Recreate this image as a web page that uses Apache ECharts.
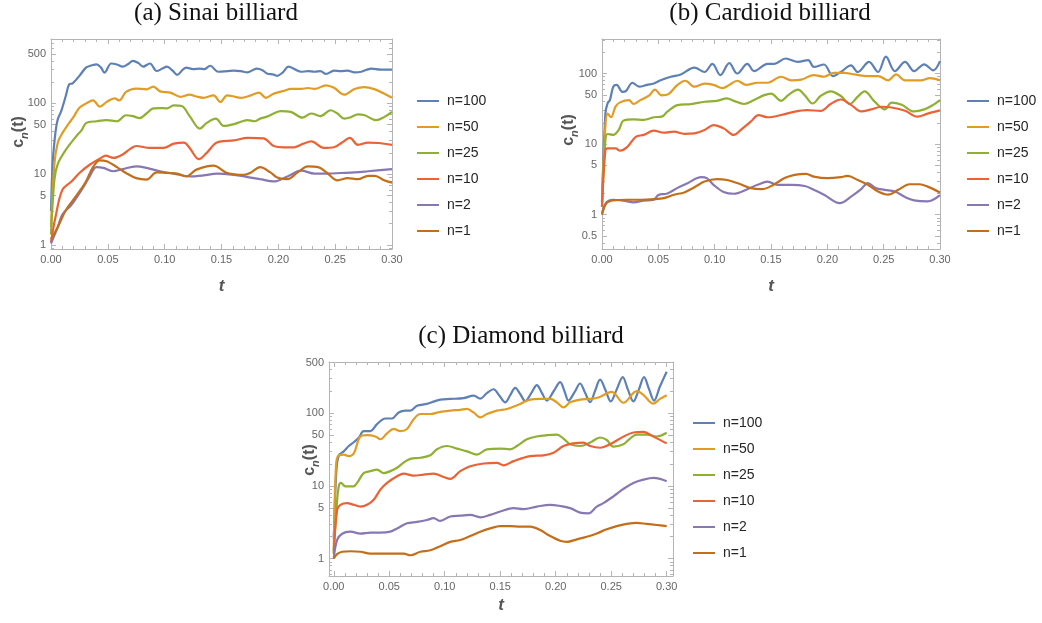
<!DOCTYPE html>
<html>
<head>
<meta charset="utf-8">
<script src="https://cdn.jsdelivr.net/npm/echarts@6/dist/echarts.min.js"></script>
<style>
  html, body { margin: 0; padding: 0; background: #ffffff; }
  #chart { width: 1042px; height: 623px; }
</style>
</head>
<body>
<div id="chart"></div>
<script>
// Legend entries and line colours (shared by all three panels)
const seriesNames = ['n=100', 'n=50', 'n=25', 'n=10', 'n=2', 'n=1'];
const palette = ['#5E81B5', '#E19C24', '#8FB032', '#EB6235', '#8778B3', '#C56E1A'];

// Tick labels
const xTickLabels = [0, 0.05, 0.1, 0.15, 0.2, 0.25, 0.3];
const sinaiYTicks = [1, 5, 10, 50, 100, 500];
const cardioidYTicks = [0.5, 1, 5, 10, 50, 100];
const diamondYTicks = [1, 5, 10, 50, 100, 500];

// (a) Sinai billiard: [t, c_n(t)]
const sinai100 = [[0,3],[0.0015,14.5],[0.004,40],[0.006,60],[0.009,78],[0.013,127],[0.016,186],[0.019,192],[0.025,245],[0.031,322],[0.036,345],[0.040,356],[0.044,320],[0.047,272],[0.053,366],[0.058,355],[0.063,330],[0.068,360],[0.072,399],[0.077,370],[0.081,330],[0.087,366],[0.093,287],[0.098,310],[0.102,330],[0.107,290],[0.111,253],[0.116,300],[0.119,320],[0.125,305],[0.131,310],[0.135,305],[0.140,340],[0.147,280],[0.155,285],[0.161,290],[0.167,285],[0.173,275],[0.181,310],[0.186,295],[0.190,265],[0.196,255],[0.199,245],[0.204,275],[0.209,330],[0.215,300],[0.220,280],[0.226,285],[0.232,280],[0.237,285],[0.242,260],[0.249,290],[0.255,285],[0.261,290],[0.267,275],[0.273,280],[0.278,300],[0.282,310],[0.290,300],[0.300,300]];
const sinai50 = [[0,1.8],[0.003,14],[0.006,28],[0.010,38],[0.016,53],[0.020,65],[0.025,87],[0.031,100],[0.037,110],[0.043,90],[0.049,105],[0.056,118],[0.060,110],[0.066,145],[0.075,162],[0.084,158],[0.090,173],[0.096,148],[0.105,142],[0.114,124],[0.122,133],[0.128,125],[0.134,120],[0.143,130],[0.149,105],[0.155,130],[0.161,125],[0.167,120],[0.176,130],[0.183,142],[0.189,120],[0.195,135],[0.199,142],[0.205,150],[0.211,160],[0.220,160],[0.226,165],[0.232,160],[0.242,180],[0.249,166],[0.258,133],[0.267,160],[0.276,170],[0.285,158],[0.292,140],[0.300,120]];
const sinai25 = [[0,1.4],[0.003,8.4],[0.006,14],[0.013,22],[0.022,34],[0.027,42],[0.031,53],[0.040,56],[0.049,58],[0.058,56],[0.066,68],[0.072,66],[0.078,62],[0.084,72],[0.090,85],[0.096,86],[0.102,85],[0.108,94],[0.115,92],[0.122,66],[0.131,44],[0.137,53],[0.145,61],[0.152,48],[0.161,51],[0.167,55],[0.173,58],[0.179,56],[0.184,61],[0.190,65],[0.196,72],[0.202,78],[0.211,76],[0.221,63],[0.229,72],[0.237,66],[0.246,80],[0.252,72],[0.258,61],[0.264,64],[0.270,70],[0.276,68],[0.286,58],[0.293,64],[0.300,76]];
const sinai10 = [[0,1.1],[0.004,2.5],[0.010,6],[0.018,7.9],[0.025,10.4],[0.034,13.6],[0.044,17],[0.048,18.3],[0.055,17],[0.063,19],[0.070,23],[0.075,25],[0.087,23.5],[0.099,23.5],[0.108,27],[0.117,28],[0.122,23.5],[0.130,16.3],[0.137,20],[0.146,28],[0.161,30],[0.173,32.6],[0.187,32],[0.196,25],[0.205,24],[0.214,24],[0.222,27],[0.229,29],[0.240,23.5],[0.249,24],[0.256,28],[0.263,32.6],[0.270,26],[0.279,28],[0.288,27.6],[0.300,26]];
const sinai2 = [[0,1.05],[0.006,1.8],[0.010,2.7],[0.018,3.7],[0.028,6.4],[0.034,9.3],[0.040,12.6],[0.046,12.3],[0.055,11],[0.063,11.8],[0.075,12.9],[0.084,12.3],[0.096,11],[0.108,10.2],[0.122,9.3],[0.134,9.6],[0.146,10.2],[0.161,9.8],[0.173,9.1],[0.184,8.5],[0.196,7.9],[0.208,9.3],[0.220,11.2],[0.232,10.2],[0.243,10.2],[0.255,10.4],[0.267,10.6],[0.279,11],[0.300,11.8]];
const sinai1 = [[0,1.2],[0.006,1.8],[0.013,3.1],[0.022,4.9],[0.030,7.5],[0.037,12.6],[0.043,15.7],[0.049,15.2],[0.058,12.6],[0.066,10.4],[0.075,8.8],[0.084,8.4],[0.093,10.6],[0.102,10.4],[0.111,10.2],[0.119,9.3],[0.128,11.6],[0.143,13.2],[0.155,10.4],[0.170,9.8],[0.176,10.6],[0.184,12.6],[0.193,10.6],[0.199,9],[0.208,8.5],[0.217,10.6],[0.226,12.9],[0.235,12.6],[0.243,10.4],[0.252,8.2],[0.261,8.8],[0.270,8.5],[0.279,9.5],[0.285,9.5],[0.293,8.2],[0.300,7.6]];

// (b) Cardioid billiard
const cardioid100 = [[0,1.5],[0.003,27],[0.005,38],[0.007,42],[0.010,65],[0.013,69],[0.018,55],[0.021,56],[0.027,74],[0.033,65],[0.040,69],[0.046,72],[0.052,80],[0.061,90],[0.070,97],[0.082,121],[0.091,105],[0.098,137],[0.105,95],[0.113,140],[0.120,100],[0.129,137],[0.135,108],[0.147,137],[0.153,137],[0.163,163],[0.174,146],[0.183,155],[0.188,124],[0.197,134],[0.205,92],[0.212,105],[0.221,130],[0.227,105],[0.237,146],[0.245,105],[0.252,173],[0.260,108],[0.269,146],[0.277,108],[0.286,135],[0.294,111],[0.300,150]];
const cardioid50 = [[0,1.5],[0.003,18],[0.005,27],[0.008,24],[0.012,34],[0.016,39],[0.024,42],[0.028,37],[0.034,42],[0.042,49],[0.047,59],[0.053,49],[0.059,51],[0.067,69],[0.074,79],[0.082,65],[0.091,72],[0.099,69],[0.107,62],[0.113,69],[0.120,79],[0.128,69],[0.138,74],[0.147,74],[0.159,90],[0.168,80],[0.177,82],[0.188,95],[0.197,90],[0.206,102],[0.215,102],[0.224,97],[0.236,92],[0.245,92],[0.254,80],[0.261,97],[0.269,80],[0.283,80],[0.291,86],[0.300,80]];
const cardioid25 = [[0,1.3],[0.003,11.4],[0.005,13.9],[0.010,13.5],[0.015,16],[0.019,21.5],[0.028,22.4],[0.037,22],[0.046,24],[0.053,24.5],[0.058,28.8],[0.067,35.6],[0.079,36.9],[0.091,39.8],[0.102,41],[0.111,44.5],[0.117,41],[0.126,37],[0.135,42],[0.144,49.4],[0.150,52],[0.159,41],[0.165,49],[0.174,59],[0.180,49],[0.187,37.6],[0.194,48],[0.203,56],[0.212,48],[0.220,37],[0.227,47],[0.233,56],[0.242,40],[0.251,31],[0.257,38.6],[0.266,36],[0.277,29],[0.286,31],[0.294,36],[0.300,42]];
const cardioid10 = [[0,1.3],[0.003,8.3],[0.005,8.7],[0.012,8.7],[0.016,8.1],[0.022,9],[0.030,12.7],[0.037,13.5],[0.046,15.5],[0.055,14.5],[0.064,15],[0.073,14],[0.082,14.2],[0.091,15.8],[0.099,18.6],[0.108,16.7],[0.117,13.5],[0.123,15.8],[0.132,20.8],[0.139,25.8],[0.147,24],[0.159,25.8],[0.171,28.8],[0.182,30.3],[0.194,29.6],[0.203,37],[0.212,42.8],[0.221,36],[0.230,29],[0.239,31],[0.248,33.8],[0.257,33],[0.269,29.6],[0.280,24.5],[0.289,27],[0.300,30]];
const cardioid2 = [[0,1.05],[0.004,1.5],[0.010,1.63],[0.019,1.58],[0.028,1.5],[0.037,1.58],[0.046,1.63],[0.050,1.9],[0.058,2.0],[0.067,2.4],[0.076,2.8],[0.088,3.4],[0.093,3.3],[0.099,2.65],[0.108,2.1],[0.117,1.98],[0.129,2.3],[0.138,2.65],[0.147,2.95],[0.156,2.65],[0.168,2.65],[0.180,2.55],[0.188,2.25],[0.197,1.92],[0.211,1.46],[0.221,1.8],[0.230,2.3],[0.236,2.8],[0.243,2.38],[0.251,2.25],[0.260,2.13],[0.269,1.78],[0.277,1.6],[0.289,1.55],[0.300,1.9]];
const cardioid1 = [[0,1.0],[0.004,1.46],[0.010,1.6],[0.022,1.63],[0.034,1.63],[0.046,1.66],[0.055,1.72],[0.064,1.92],[0.073,2.07],[0.082,2.45],[0.091,2.95],[0.102,3.2],[0.111,3.1],[0.123,2.7],[0.132,2.38],[0.142,2.3],[0.153,2.7],[0.162,3.3],[0.171,3.67],[0.181,3.8],[0.188,3.47],[0.200,3.3],[0.212,3.4],[0.218,3.55],[0.227,3.1],[0.236,2.65],[0.245,2.13],[0.254,1.92],[0.263,2.25],[0.273,2.7],[0.282,2.7],[0.289,2.5],[0.300,2.07]];

// (c) Diamond billiard
const diamond100 = [[0,1.9],[0.0015,9],[0.003,21],[0.005,27],[0.009,30],[0.0135,35.5],[0.018,40],[0.0225,46],[0.027,57],[0.033,57],[0.039,71],[0.0465,85],[0.0525,85],[0.0585,103],[0.0645,109],[0.069,109],[0.075,127],[0.084,135],[0.090,145],[0.096,155],[0.105,158],[0.117,162],[0.126,176],[0.132,160],[0.138,190],[0.144,215],[0.149,178],[0.1545,142],[0.159,178],[0.1635,225],[0.168,185],[0.1725,148],[0.178,190],[0.183,245],[0.1875,192],[0.192,150],[0.198,200],[0.204,270],[0.208,200],[0.2115,150],[0.217,196],[0.222,258],[0.2265,192],[0.231,143],[0.2355,205],[0.240,292],[0.245,206],[0.2496,146],[0.255,214],[0.2604,315],[0.265,214],[0.270,146],[0.275,214],[0.2796,315],[0.284,218],[0.2886,150],[0.294,236],[0.300,375]];
const diamond50 = [[0,1.2],[0.002,19],[0.0045,26.5],[0.009,27],[0.0135,25.8],[0.018,28],[0.024,48],[0.030,50],[0.0375,48],[0.042,44],[0.048,53],[0.054,61],[0.060,57],[0.066,61],[0.072,83],[0.078,98],[0.087,98],[0.096,105],[0.105,109],[0.114,112],[0.120,115],[0.126,103],[0.132,88],[0.138,98],[0.147,109],[0.156,115],[0.168,135],[0.177,155],[0.186,158],[0.195,158],[0.201,142],[0.207,121],[0.213,142],[0.222,155],[0.231,158],[0.2385,165],[0.2505,198],[0.261,140],[0.273,203],[0.279,180],[0.288,136],[0.294,158],[0.300,178]];
const diamond25 = [[0,1.3],[0.0025,5],[0.0045,9.9],[0.0065,11],[0.0105,9.9],[0.018,9.9],[0.021,11],[0.027,15],[0.033,16],[0.039,16.8],[0.045,15],[0.051,16],[0.057,17.8],[0.063,21],[0.069,23.6],[0.078,24.5],[0.087,26.4],[0.093,32],[0.102,35.5],[0.111,32.7],[0.120,30],[0.129,27],[0.138,32],[0.150,32.7],[0.159,32],[0.165,35.5],[0.174,44],[0.183,48],[0.192,50],[0.201,51],[0.207,45],[0.213,37.5],[0.222,35.5],[0.231,39.6],[0.240,46.5],[0.246,43],[0.252,34.8],[0.261,37.5],[0.267,45],[0.273,51],[0.282,51],[0.291,48],[0.300,54]];
const diamond10 = [[0,1.15],[0.003,4.7],[0.006,5.5],[0.012,5.8],[0.018,5.5],[0.024,5.2],[0.030,5.5],[0.036,6.45],[0.042,8.9],[0.048,11],[0.057,13.6],[0.063,14.8],[0.072,13.9],[0.081,14.3],[0.090,14.8],[0.099,13.3],[0.105,12.5],[0.114,16],[0.123,18.7],[0.135,20.4],[0.147,20.8],[0.153,19.2],[0.162,22],[0.177,25.8],[0.189,26.4],[0.198,28.7],[0.207,35.5],[0.216,38.6],[0.225,39.6],[0.231,35.5],[0.240,33.6],[0.249,37.5],[0.261,47.8],[0.270,54.5],[0.279,55.6],[0.288,47.8],[0.300,38.6]];
const diamond2 = [[0,1.0],[0.003,1.8],[0.0075,2.2],[0.015,2.35],[0.024,2.2],[0.033,2.27],[0.042,2.27],[0.051,2.35],[0.057,2.6],[0.066,3.06],[0.075,3.2],[0.084,3.4],[0.090,3.6],[0.096,3.3],[0.105,3.8],[0.114,3.9],[0.123,4.0],[0.132,3.7],[0.141,4.0],[0.150,4.45],[0.162,4.95],[0.171,4.8],[0.183,5.2],[0.195,5.5],[0.204,5.3],[0.213,4.95],[0.222,4.3],[0.2295,4.2],[0.237,5.2],[0.243,5.8],[0.252,7.2],[0.261,9.1],[0.270,11],[0.279,12.2],[0.288,12.9],[0.294,12.5],[0.300,11.6]];
const diamond1 = [[0,1.0],[0.003,1.15],[0.0075,1.24],[0.015,1.26],[0.024,1.24],[0.033,1.17],[0.042,1.17],[0.054,1.17],[0.063,1.17],[0.069,1.11],[0.078,1.24],[0.087,1.3],[0.096,1.48],[0.105,1.7],[0.114,1.8],[0.123,2.04],[0.132,2.34],[0.141,2.6],[0.150,2.8],[0.159,2.8],[0.168,2.75],[0.177,2.75],[0.186,2.47],[0.195,2.04],[0.204,1.76],[0.210,1.7],[0.219,1.84],[0.228,2.0],[0.237,2.22],[0.246,2.53],[0.255,2.8],[0.264,3.0],[0.273,3.1],[0.282,3.0],[0.291,2.9],[0.300,2.8]];

// Panel layout
const panels = [
  { title: '(a) Sinai billiard', titleX: 216, titleY: 1,
    grid: { left: 51, top: 39, width: 341, height: 210 },
    xMin: 0, xMax: 0.3, yMin: 0.878, yMax: 812, yTicks: sinaiYTicks,
    lines: [sinai100, sinai50, sinai25, sinai10, sinai2, sinai1],
    legend: { left: 417, top: 93 }, xNameGap: 29, yNameGap: 21, yNameShift: 24 },
  { title: '(b) Cardioid billiard', titleX: 770, titleY: 1,
    grid: { left: 602, top: 39, width: 338, height: 210 },
    xMin: 0, xMax: 0.3, yMin: 0.327, yMax: 308, yTicks: cardioidYTicks,
    lines: [cardioid100, cardioid50, cardioid25, cardioid10, cardioid2, cardioid1],
    legend: { left: 967, top: 93 }, xNameGap: 29, yNameGap: 22, yNameShift: 28 },
  { title: '(c) Diamond billiard', titleX: 521, titleY: 324,
    grid: { left: 329, top: 362, width: 344, height: 214 },
    xMin: -0.0043, xMax: 0.3057, yMin: 0.575, yMax: 510, yTicks: diamondYTicks,
    lines: [diamond100, diamond50, diamond25, diamond10, diamond2, diamond1],
    legend: { left: 693, top: 415 }, xNameGap: 21, yNameGap: 8, yNameShift: 18 }
];

const frameColor = '#b4b4b4';
const labelColor = '#666666';
const nameColor = '#555555';
const sans = 'Liberation Sans, Arial, sans-serif';

const xMinorTicks = [];
for (let k = 1; k < 30; k++) if (k % 5 !== 0) xMinorTicks.push(k / 100);

function yMinorTicks(lo, hi) {
  const out = [];
  [0.1, 1, 10, 100].forEach(function (d) {
    for (let k = 2; k < 10; k++) {
      if (k === 5) continue;
      const v = +(k * d).toPrecision(3);
      if (v > lo && v < hi) out.push(v);
    }
  });
  return out;
}

function tickAxis(base, ticks, len, showLine) {
  return Object.assign({
    axisLabel: { show: false },
    splitLine: { show: false },
    axisLine: { show: !!showLine, onZero: false, lineStyle: { color: frameColor, width: 1 } },
    axisTick: { show: true, inside: true, length: len, customValues: ticks,
                lineStyle: { color: frameColor, width: 1 } }
  }, base);
}

const option = {
  animation: false,
  backgroundColor: '#ffffff',
  title: [], grid: [], xAxis: [], yAxis: [], legend: [], series: []
};

panels.forEach(function (p, gi) {
  option.title.push({
    text: p.title, left: p.titleX, top: p.titleY, textAlign: 'center', padding: 0,
    textStyle: { fontFamily: 'Liberation Serif, serif', fontSize: 25, fontWeight: 'normal', color: '#111111' }
  });
  option.grid.push(Object.assign({ containLabel: false }, p.grid));

  const xBase = { type: 'value', gridIndex: gi, min: p.xMin, max: p.xMax };
  const yBase = { type: 'log', logBase: 10, gridIndex: gi, min: p.yMin, max: p.yMax };
  const yMinor = yMinorTicks(p.yMin, p.yMax);

  // bottom axis with labels and name
  const xMain = tickAxis(Object.assign({ position: 'bottom' }, xBase), xTickLabels, 5, true);
  xMain.axisLabel = {
    show: true, customValues: xTickLabels, margin: 5,
    formatter: function (v) { return v.toFixed(2); },
    color: labelColor, fontFamily: sans, fontSize: 11
  };
  xMain.name = 't';
  xMain.nameLocation = 'middle';
  xMain.nameGap = p.xNameGap;
  xMain.nameMoveOverlap = false;
  xMain.nameTextStyle = { fontFamily: sans, fontSize: 17, fontWeight: 'bold', fontStyle: 'italic', color: nameColor };
  option.xAxis.push(xMain);
  option.xAxis.push(tickAxis(Object.assign({ position: 'bottom' }, xBase), xMinorTicks, 3, false));
  option.xAxis.push(tickAxis(Object.assign({ position: 'top' }, xBase), xTickLabels, 5, true));
  option.xAxis.push(tickAxis(Object.assign({ position: 'top' }, xBase), xMinorTicks, 3, false));

  // left axis with labels and name
  const yMain = tickAxis(Object.assign({ position: 'left' }, yBase), p.yTicks, 5, true);
  yMain.axisLabel = {
    show: true, customValues: p.yTicks, margin: 5,
    formatter: function (v) { return String(v); },
    color: labelColor, fontFamily: sans, fontSize: 11
  };
  yMain.name = '{c|c}{n|n}{c|(t)}';
  yMain.nameLocation = 'middle';
  yMain.nameRotate = 90;
  yMain.nameGap = p.yNameGap;
  yMain.nameMoveOverlap = false;
  yMain.nameTextStyle = {
    color: nameColor, padding: [0, 0, 0, p.yNameShift],
    rich: {
      c: { fontFamily: sans, fontSize: 16, fontWeight: 'bold', color: nameColor, height: 22, verticalAlign: 'top' },
      n: { fontFamily: sans, fontSize: 11, fontWeight: 'bold', fontStyle: 'italic', color: nameColor, height: 11, verticalAlign: 'bottom' }
    }
  };
  option.yAxis.push(yMain);
  option.yAxis.push(tickAxis(Object.assign({ position: 'left' }, yBase), yMinor, 3, false));
  option.yAxis.push(tickAxis(Object.assign({ position: 'right' }, yBase), p.yTicks, 5, true));
  option.yAxis.push(tickAxis(Object.assign({ position: 'right' }, yBase), yMinor, 3, false));

  option.legend.push({
    orient: 'vertical', left: p.legend.left, top: p.legend.top, padding: 0,
    itemWidth: 22, itemHeight: 2, itemGap: 10, icon: 'rect', selectedMode: false,
    data: seriesNames,
    textStyle: { fontFamily: sans, fontSize: 14, lineHeight: 16, color: '#262626', padding: [0, 0, 0, 3] }
  });

  p.lines.forEach(function (pts, si) {
    option.series.push({
      type: 'line', name: seriesNames[si],
      xAxisIndex: gi * 4, yAxisIndex: gi * 4,
      data: pts, showSymbol: false, symbol: 'none', smooth: 0.35,
      color: palette[si],
      itemStyle: { color: palette[si] },
      lineStyle: { color: palette[si], width: 2.2 },
      emphasis: { disabled: true },
      z: 2 + si
    });
  });
});

const chart = echarts.init(document.getElementById('chart'), null, { renderer: 'canvas' });
chart.setOption(option);
</script>
</body>
</html>
